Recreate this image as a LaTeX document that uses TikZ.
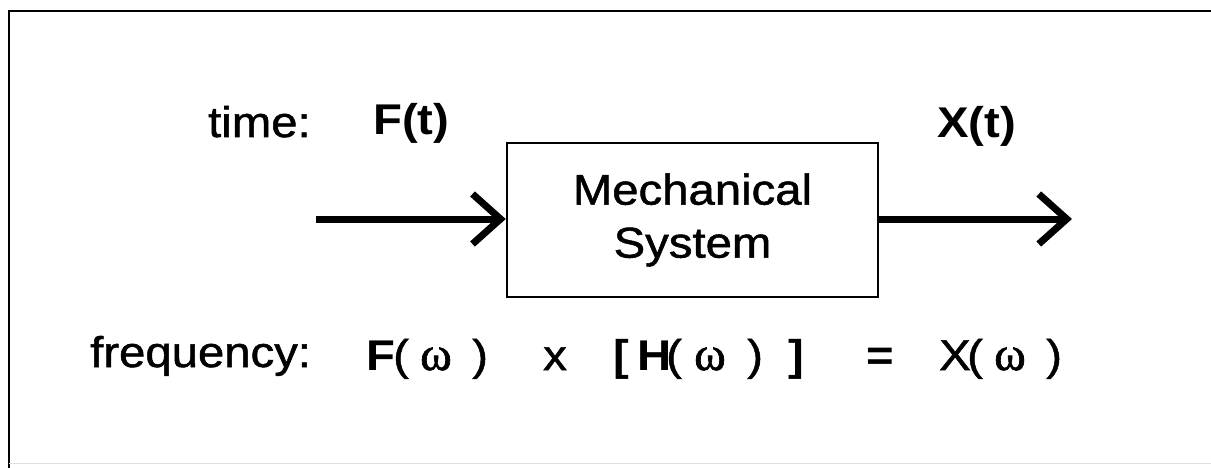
\documentclass[tikz,border=0pt]{standalone}
\usepackage{fontspec}
\setmainfont{Liberation Sans}[FakeStretch=1.1]
\newfontfamily\medfont{Liberation Sans}[FakeStretch=1.1,FakeBold=1.2]
\newfontfamily\omegafont{Liberation Serif}[FakeBold=1.5]
\usetikzlibrary{arrows.meta}
\begin{document}
\begin{tikzpicture}[x=1pt,y=-1pt,
  txt/.style={inner sep=0pt,anchor=base west,font=\fontsize{43}{50}\selectfont\medfont},
  btxt/.style={inner sep=0pt,anchor=base west,font=\fontsize{43}{50}\selectfont\bfseries},
  wtxt/.style={inner sep=0pt,anchor=base west,font=\fontsize{48}{50}\selectfont\omegafont},
  sysbox/.style={draw,line width=2.5pt,minimum width=371pt,minimum height=154pt,inner sep=0pt,align=center,font=\fontsize{43}{53}\selectfont\medfont},
  flow/.style={line width=7pt,-{Straight Barb[length=28pt,width=50pt,line width=7pt]}}
]
\useasboundingbox (0,0) rectangle (1211,468);
\clip (0,0) rectangle (1211,468);
\fill[white] (0,0) rectangle (1211,468);
\draw[line width=2.5pt] (9,480) -- (9,11) -- (1230,11);
\draw[black!12,line width=1pt] (9,463) -- (1230,463);

\node[sysbox] (sys) at (692.5,220) {Mechanical\\System};

\node[txt] (time) at (208,137) {time:};
\node[btxt] (ft) at (373,135) {F(t)};
\node[btxt] (xt) at (937,138) {X(t)};

\coordinate (in) at (316,219);
\coordinate (out) at (1072,219);
\draw[flow] (in) -- (in -| sys.west);
\draw[flow] (out -| sys.east) -- (out);

\node[txt] (freq) at (90,367) {frequency:};
% F( w )
\node[btxt] (F) at (366,370) {F};
\node[txt] (Fl) at (393,370) {(};
\node[wtxt] (Fw) at (420,370) {ω};
\node[txt] (Fr) at (472,370) {)};
% x
\node[txt] (times) at (543,370) {x};
% [ H( w ) ]
\node[btxt] (lb) at (613,370) {[};
\node[btxt] (H) at (637,370) {H};
\node[txt] (Hl) at (666,370) {(};
\node[wtxt] (Hw) at (694,370) {ω};
\node[txt] (Hr) at (747,370) {)};
\node[btxt] (rb) at (788,370) {]};
% =
\node[btxt] (eq) at (866,370) {=};
% X( w )
\node[txt] (X) at (939,370) {X};
\node[txt] (Xl) at (967,370) {(};
\node[wtxt] (Xw) at (994,370) {ω};
\node[txt] (Xr) at (1046,370) {)};
\end{tikzpicture}
\end{document}
